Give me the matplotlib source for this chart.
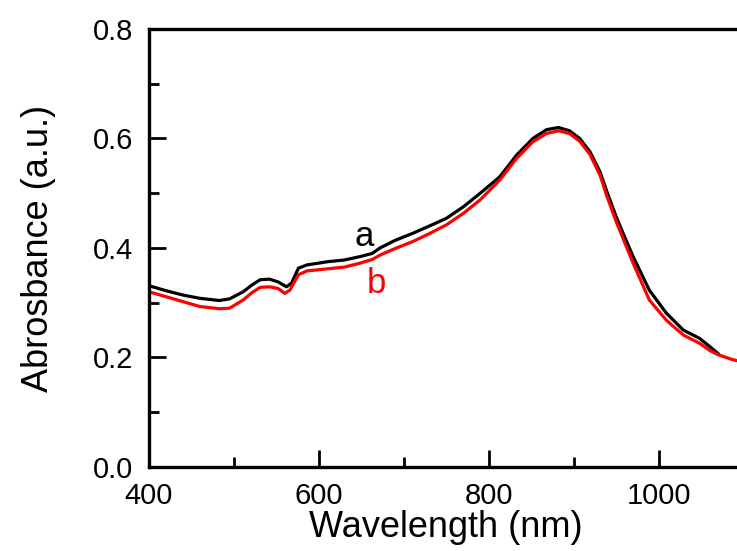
import matplotlib.pyplot as plt
from matplotlib.ticker import MultipleLocator

plt.rcParams['font.family'] = ['Liberation Sans', 'DejaVu Sans']

# absorbance spectra, sample a (black) and sample b (red)
wl_a = [400, 420, 440, 460, 483, 495, 511, 521, 531, 542, 552, 562, 568, 576, 586, 611, 630, 648,
        663, 672, 690, 711, 730, 750, 770, 790, 813, 833, 852, 868, 882, 895, 907, 919, 931,
        939, 950, 960, 970, 989, 1009, 1029, 1048, 1060, 1070]
abs_a = [0.331, 0.322, 0.314, 0.308, 0.304, 0.307, 0.320, 0.332, 0.342, 0.343, 0.338, 0.329,
         0.336, 0.363, 0.369, 0.375, 0.378, 0.384, 0.390, 0.400, 0.414, 0.427, 0.440, 0.454,
         0.475, 0.500, 0.530, 0.570, 0.600, 0.616, 0.620, 0.614, 0.600, 0.576, 0.539, 0.503,
         0.457, 0.420, 0.384, 0.323, 0.281, 0.250, 0.235, 0.220, 0.207]

wl_b = [400, 420, 440, 460, 483, 495, 511, 521, 531, 542, 552, 560, 566, 576, 586, 611, 630, 648,
        663, 672, 690, 711, 730, 750, 770, 790, 813, 833, 852, 868, 882, 895, 907, 919, 931,
        939, 950, 960, 970, 989, 1009, 1029, 1048, 1060, 1070, 1085, 1100]
abs_b = [0.320, 0.311, 0.302, 0.293, 0.289, 0.290, 0.305, 0.318, 0.328, 0.329, 0.326, 0.317,
         0.323, 0.351, 0.358, 0.362, 0.365, 0.372, 0.379, 0.387, 0.399, 0.412, 0.426, 0.442,
         0.463, 0.488, 0.524, 0.564, 0.594, 0.609, 0.614, 0.609, 0.595, 0.571, 0.533, 0.495,
         0.448, 0.410, 0.372, 0.305, 0.268, 0.241, 0.226, 0.213, 0.205, 0.197, 0.191]

fig = plt.figure(figsize=(7.37, 5.51), dpi=100)
ax = fig.add_axes([0.202, 0.1525, 0.807, 0.795])

ax.plot(wl_a, abs_a, color='black', lw=2.3, solid_joinstyle='round')
ax.plot(wl_b, abs_b, color='red', lw=2.3, solid_joinstyle='round')

ax.text(654, 0.421, 'a', color='black', fontsize=25, ha='center', va='center')
ax.text(668, 0.335, 'b', color='red', fontsize=25, ha='center', va='center')

ax.set_xlim(400, 1100)
ax.set_ylim(0, 0.8)
ax.xaxis.set_major_locator(MultipleLocator(200))
ax.xaxis.set_minor_locator(MultipleLocator(100))
ax.yaxis.set_major_locator(MultipleLocator(0.2))
ax.yaxis.set_minor_locator(MultipleLocator(0.1))
ax.tick_params(which='both', direction='in', width=2, labelsize=21, pad=11)
ax.tick_params(which='major', length=12)
ax.tick_params(which='minor', length=7)
for s in ax.spines.values():
    s.set_linewidth(2.4)

ax.set_xlabel('Wavelength (nm)', fontsize=26, labelpad=0)
ax.set_ylabel('Abrosbance (a.u.)', fontsize=26, labelpad=27)

plt.savefig('out.png')
